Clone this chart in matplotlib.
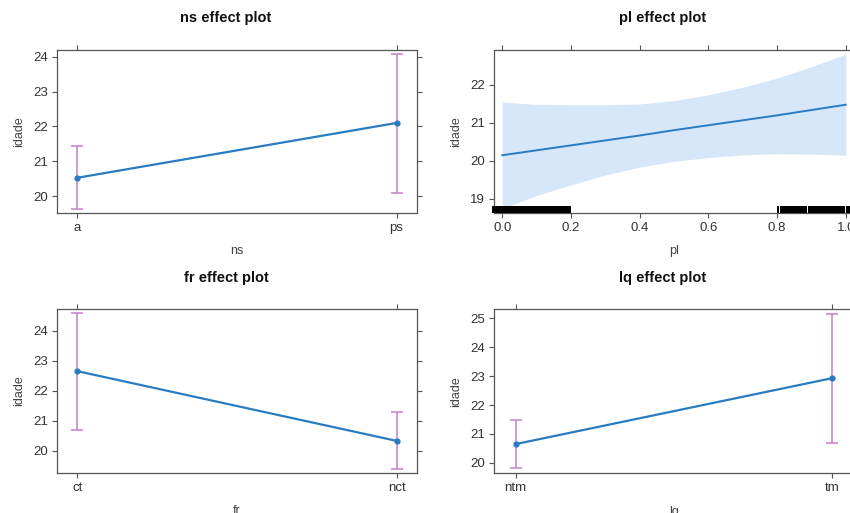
import matplotlib
matplotlib.use("Agg")
import matplotlib.pyplot as plt
import matplotlib.transforms as mtransforms

plt.rcParams['font.family'] = ['Liberation Sans', 'DejaVu Sans']

# ns / fr / lq: factor effects (fit, lower, upper)
ns_levels = ["a", "ps"]
ns_fit = [20.53, 22.10]
ns_lower = [19.63, 20.08]
ns_upper = [21.45, 24.08]

fr_levels = ["ct", "nct"]
fr_fit = [22.65, 20.33]
fr_lower = [20.69, 19.41]
fr_upper = [24.57, 21.29]

lq_levels = ["ntm", "tm"]
lq_fit = [20.65, 22.93]
lq_lower = [19.82, 20.68]
lq_upper = [21.48, 25.16]

# pl: continuous effect with confidence band
pl_x = [0.0, 0.1, 0.2, 0.3, 0.4, 0.5, 0.6, 0.7, 0.8, 0.9, 1.0]
pl_fit = [20.14, 20.27, 20.40, 20.53, 20.66, 20.80, 20.93, 21.06, 21.19, 21.33, 21.47]
pl_lower = [18.74, 19.08, 19.36, 19.62, 19.83, 19.98, 20.08, 20.15, 20.18, 20.17, 20.14]
pl_upper = [21.54, 21.48, 21.47, 21.47, 21.49, 21.58, 21.73, 21.93, 22.17, 22.47, 22.80]
# rug (observed pl values, drawn as merged blocks)
pl_rug = [(-0.03, 0.200), (0.800, 0.806), (0.810, 0.886), (0.890, 0.999), (1.002, 1.03)]

LINE = "#2a7cc2"
BAR = "#c77fcc"
BAND = "#d5e7f8"
BOX = "#555555"
TXT = "#333333"

fig = plt.figure(figsize=(8.5, 5.13), dpi=100)


def style(ax):
    for s in ax.spines.values():
        s.set_color(BOX)
        s.set_linewidth(0.9)
    ax.tick_params(direction="out", length=3.6, width=0.8, color=BOX,
                   labelsize=9.5, labelcolor=TXT, top=True, right=True,
                   labeltop=False, labelright=False, pad=3)
    ax.set_ylabel("idade", fontsize=9, color="#444444", labelpad=6)


def factor_panel(rect, levels, fit, lower, upper, ylim, yticks, xlabel):
    ax = fig.add_axes(rect)
    pos = list(range(len(levels)))
    err = [[f - l for f, l in zip(fit, lower)], [u - f for f, u in zip(fit, upper)]]
    ax.errorbar(pos, fit, yerr=err, fmt="none", ecolor=BAR, elinewidth=1.1,
                capsize=4, capthick=1.1, zorder=2)
    ax.plot(pos, fit, color=LINE, lw=1.6, marker="o", ms=3.5, zorder=3)
    ax.set_xlim(-0.064, 1.064)
    ax.set_ylim(*ylim)
    ax.set_xticks(pos)
    ax.set_xticklabels(levels)
    ax.set_yticks(yticks)
    style(ax)
    ax.set_xlabel(xlabel, fontsize=9, color="#444444", labelpad=8)
    return ax


factor_panel([0.0671, 0.5848, 0.4235, 0.3177], ns_levels, ns_fit, ns_lower, ns_upper,
             (19.52, 24.19), [20, 21, 22, 23, 24], "ns")
factor_panel([0.0671, 0.0785, 0.4235, 0.3186], fr_levels, fr_fit, fr_lower, fr_upper,
             (19.27, 24.71), [20, 21, 22, 23, 24], "fr")
ax4 = factor_panel([0.5812, 0.0774, 0.4235, 0.3197], lq_levels, lq_fit, lq_lower, lq_upper,
                   (19.64, 25.31), [20, 21, 22, 23, 24, 25], "lq")
ax4.set_xlim(-0.0685, 1.0685)

# pl panel
ax2 = fig.add_axes([0.5812, 0.5848, 0.4235, 0.3177])
ax2.fill_between(pl_x, pl_lower, pl_upper, color=BAND, lw=0, zorder=1)
ax2.plot(pl_x, pl_fit, color=LINE, lw=1.4, zorder=3)
trans = mtransforms.blended_transform_factory(ax2.transData, ax2.transAxes)
ax2.broken_barh([(a, b - a) for a, b in pl_rug], (0, 0.045), facecolor="black",
                transform=trans, zorder=4, clip_on=False)
ax2.set_xlim(-0.024, 1.024)
ax2.set_ylim(18.62, 22.91)
ax2.set_xticks([0.0, 0.2, 0.4, 0.6, 0.8, 1.0])
ax2.set_xticklabels(["0.0", "0.2", "0.4", "0.6", "0.8", "1.0"])
ax2.set_yticks([19, 20, 21, 22])
style(ax2)
ax2.set_xlabel("pl", fontsize=9, color="#444444", labelpad=8)

# panel titles
for x, y, t in [(226, 18, "ns effect plot"), (663, 18, "pl effect plot"),
                (226, 278, "fr effect plot"), (663, 278, "lq effect plot")]:
    fig.text(x / 850, 1 - y / 513, t, ha="center", va="center",
             fontsize=10.5, fontweight="bold", color="#111111")

fig.savefig("out.png", dpi=100)
